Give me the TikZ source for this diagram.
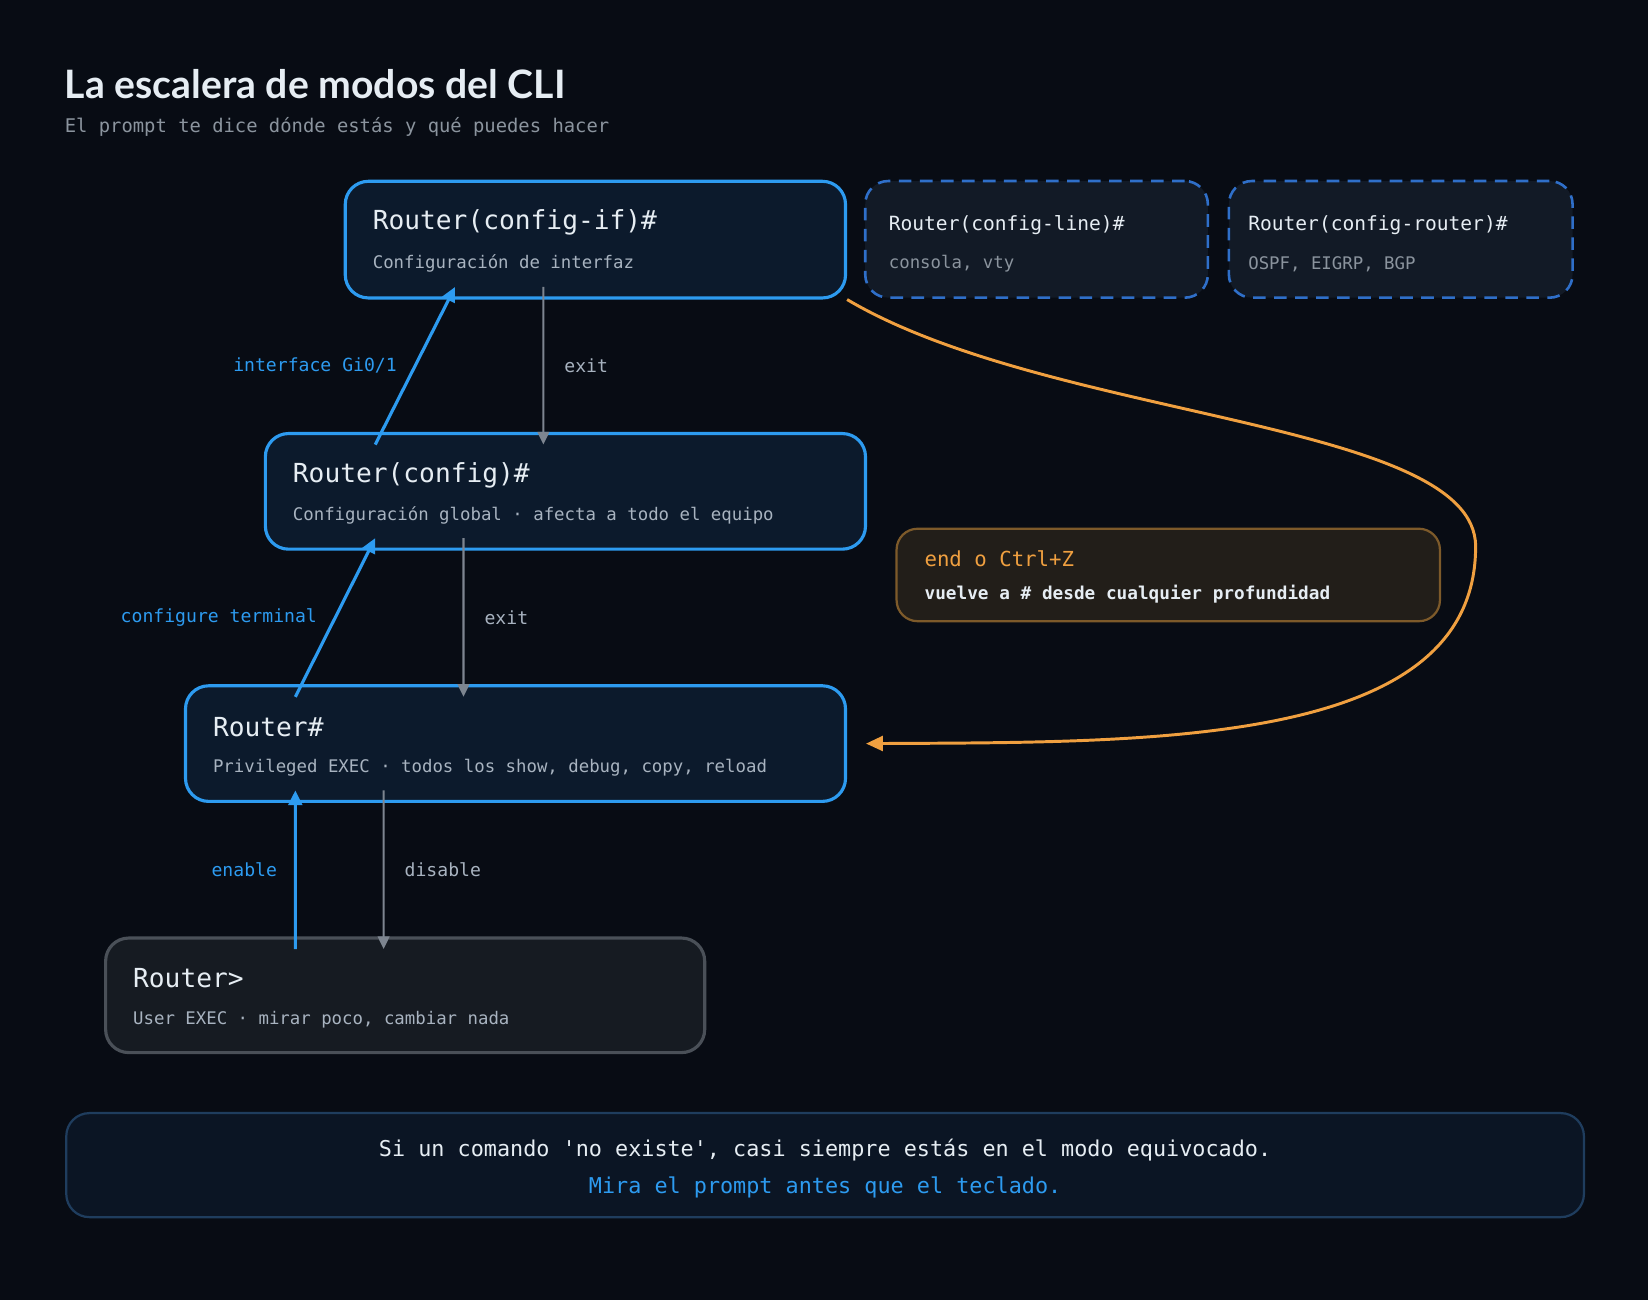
\documentclass[tikz,border=0pt]{standalone}
\usepackage{fontspec}
\setmainfont{Lato}
\setmonofont{DejaVu Sans Mono}
\usetikzlibrary{arrows.meta,positioning,calc}
\definecolor{bgdark}{HTML}{080C14}
\definecolor{boxfill}{HTML}{0C1A2C}
\definecolor{cliblue}{HTML}{2D9BF0}
\definecolor{dashblue}{HTML}{2F6FC9}
\definecolor{dashfill}{HTML}{121A26}
\definecolor{arrgray}{HTML}{7D8590}
\definecolor{userline}{HTML}{4A5058}
\definecolor{userfill}{HTML}{161B22}
\definecolor{endorange}{HTML}{F0A040}
\definecolor{endline}{HTML}{7D5A2A}
\definecolor{endfill}{HTML}{221E19}
\definecolor{footline}{HTML}{1F3D5E}
\definecolor{footfill}{HTML}{0B1524}
\definecolor{txtmain}{HTML}{E6EDF3}
\definecolor{txtsub}{HTML}{A8B3C0}
\definecolor{txtdim}{HTML}{8B949E}

\begin{document}
\begin{tikzpicture}[x=0.1mm, y=-0.1mm,
        mode/.style={rectangle, draw=cliblue, fill=boxfill, line width=0.85pt, rounded corners=2.2mm, anchor=north west, inner sep=0pt},
        extra/.style={rectangle, draw=dashblue, fill=dashfill, line width=0.7pt, dashed, dash pattern=on 1.2mm off 0.8mm, rounded corners=2.2mm, anchor=north west, inner sep=0pt},
        prompt/.style={anchor=west, inner sep=0pt, text=txtmain, font=\ttfamily\fontsize{7.1}{9}\selectfont},
        small/.style={anchor=west, inner sep=0pt, text=txtsub, font=\ttfamily\fontsize{4.7}{6}\selectfont},
        label/.style={text=cliblue, inner sep=0pt, font=\ttfamily\fontsize{4.9}{6}\selectfont},
        graylabel/.style={text=txtsub, inner sep=0pt, font=\ttfamily\fontsize{4.9}{6}\selectfont},
        up/.style={-{Triangle[length=1.4mm, width=1.3mm]}, cliblue, line width=0.85pt},
        down/.style={-{Triangle[length=1.2mm, width=1.1mm]}, arrgray, line width=0.6pt},
    ]
        \fill[bgdark] (0,0) rectangle (1568,1237);

        % Title
        \node[anchor=west, inner sep=0pt, text=txtmain, font=\bfseries\fontsize{10.6}{12}\selectfont] (title) at (61,80) {La escalera de modos del CLI};
        \node[anchor=west, inner sep=0pt, text=txtdim, font=\ttfamily\fontsize{5.1}{6}\selectfont] (subtitle) at (61,121) {El prompt te dice dónde estás y qué puedes hacer};

        % Modes
        \node[mode, minimum width=47.6mm, minimum height=11.1mm] (cfgif) at (327,171) {};
        \node[prompt] at ($(cfgif.north west)+(27,41)$) {Router(config-if)\#};
        \node[small] at ($(cfgif.north west)+(27,80)$) {Configuración de interfaz};

        \node[extra, minimum width=32.6mm, minimum height=11.1mm] (cfgline) at (822,171) {};
        \node[prompt, font=\ttfamily\fontsize{5.3}{7}\selectfont] at ($(cfgline.north west)+(23,43)$) {Router(config-line)\#};
        \node[small, text=txtdim] at ($(cfgline.north west)+(23,80)$) {consola, vty};

        \node[extra, minimum width=32.7mm, minimum height=11.1mm] (cfgrouter) at (1168,171) {};
        \node[prompt, font=\ttfamily\fontsize{5.3}{7}\selectfont] at ($(cfgrouter.north west)+(19,43)$) {Router(config-router)\#};
        \node[small, text=txtdim] at ($(cfgrouter.north west)+(19,80)$) {OSPF, EIGRP, BGP};

        \node[mode, minimum width=57.1mm, minimum height=11.0mm] (config) at (251,411) {};
        \node[prompt] at ($(config.north west)+(27,41)$) {Router(config)\#};
        \node[small] at ($(config.north west)+(27,79)$) {Configuración global · afecta a todo el equipo};

        \node[mode, minimum width=62.8mm, minimum height=11.0mm] (priv) at (175,651) {};
        \node[prompt] at ($(priv.north west)+(27,41)$) {Router\#};
        \node[small] at ($(priv.north west)+(27,79)$) {Privileged EXEC · todos los show, debug, copy, reload};

        \node[mode, draw=userline, fill=userfill, minimum width=57.0mm, minimum height=10.9mm] (user) at (99,891) {};
        \node[prompt] at ($(user.north west)+(27,40)$) {Router>};
        \node[small] at ($(user.north west)+(27,79)$) {User EXEC · mirar poco, cambiar nada};

        % end box
        \node[mode, draw=endline, fill=endfill, line width=0.6pt, rounded corners=2mm, minimum width=51.7mm, minimum height=8.8mm] (endbox) at (852,502) {};
        \node[anchor=west, inner sep=0pt, text=endorange, font=\ttfamily\fontsize{5.6}{7}\selectfont] at ($(endbox.north west)+(27,30)$) {end o Ctrl+Z};
        \node[anchor=west, inner sep=0pt, text=txtmain, font=\ttfamily\bfseries\fontsize{4.8}{6}\selectfont] at ($(endbox.north west)+(27,63)$) {vuelve a \# desde cualquier profundidad};

        % Arrows up/down
        \draw[up] ([xshift=10.6mm, yshift=-1.2mm]config.north west) -- ([xshift=10.6mm, yshift=1.2mm]cfgif.south west) node[midway, left=1.6mm, label] {interface Gi0/1};
        \draw[down] ([xshift=19mm, yshift=1.2mm]cfgif.south west) -- ([xshift=26.6mm, yshift=-1.2mm]config.north west) node[midway, right=1.9mm, graylabel] {exit};
        \draw[up] ([xshift=10.6mm, yshift=-1.2mm]priv.north west) -- ([xshift=10.6mm, yshift=1.2mm]config.south west) node[midway, left=1.6mm, label] {configure terminal};
        \draw[down] ([xshift=19mm, yshift=1.2mm]config.south west) -- ([xshift=26.6mm, yshift=-1.2mm]priv.north west) node[midway, right=1.9mm, graylabel] {exit};
        \draw[up] ([xshift=18.2mm, yshift=-1.2mm]user.north west) -- ([xshift=10.6mm, yshift=1.2mm]priv.south west) node[midway, left=1.6mm, label] {enable};
        \draw[down] ([xshift=19mm, yshift=1.2mm]priv.south west) -- ([xshift=26.6mm, yshift=-1.2mm]user.north west) node[midway, right=1.9mm, graylabel] {disable};

        % end shortcut
        \draw[endorange, line width=0.8pt, -{Triangle[length=1.6mm, width=1.4mm]}] (cfgif.south east) .. controls (1000,400) and (1404,400) .. (1404,520) .. controls (1404,710) and (1100,706) .. ([xshift=1.8mm]priv.east);

        % Footer
        \node[mode, draw=footline, fill=footfill, line width=0.6pt, minimum width=144.4mm, minimum height=9.9mm] (footer) at (62,1058) {};
        \node[text=txtmain, font=\ttfamily\fontsize{5.9}{7}\selectfont] at ($(footer.north)+(0,36)$) {Si un comando 'no existe', casi siempre estás en el modo equivocado.};
        \node[text=cliblue, font=\ttfamily\fontsize{5.9}{7}\selectfont] at ($(footer.north)+(0,72)$) {Mira el prompt antes que el teclado.};
    \end{tikzpicture}
\end{document}
